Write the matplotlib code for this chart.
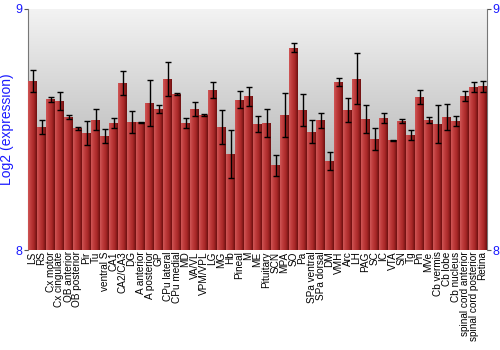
import numpy as np
import matplotlib
matplotlib.use("Agg")
import matplotlib.pyplot as plt
from matplotlib.colors import LinearSegmentedColormap

regions = ["LS", "RS", "Cx motor", "Cx cingulate", "OB anterior", "OB posterior",
           "Pir", "Tu", "ventral S", "CA1", "CA2/CA3", "DG", "A anterior",
           "A posterior", "GP", "CPu lateral", "CPu medial", "MD", "VA/VL",
           "VPM/VPL", "LG", "MG", "Hb", "Pineal", "M", "ME", "Pituitary", "SCN",
           "MPA", "SO", "Pa", "SPa ventral", "SPa dorsal", "DM", "VMH", "Arc",
           "LH", "PAG", "SC", "IC", "VTA", "SN", "Tg", "Pn", "MVe", "Cb vermis",
           "Cb lobe", "Cb nucleus", "spinal cord anterior", "spinal cord posterior",
           "Retina"]

expr = [8.701, 8.510, 8.625, 8.618, 8.551, 8.505, 8.485, 8.541, 8.474, 8.527,
        8.693, 8.531, 8.531, 8.611, 8.585, 8.710, 8.647, 8.528, 8.586, 8.560,
        8.664, 8.509, 8.400, 8.624, 8.638, 8.524, 8.527, 8.351, 8.560, 8.840,
        8.580, 8.491, 8.538, 8.369, 8.698, 8.581, 8.711, 8.545, 8.462, 8.549,
        8.456, 8.535, 8.477, 8.635, 8.539, 8.522, 8.551, 8.535, 8.640, 8.676,
        8.679]

err = [0.044, 0.030, 0.010, 0.037, 0.008, 0.006, 0.050, 0.045, 0.029, 0.019,
       0.051, 0.046, 0.002, 0.095, 0.018, 0.069, 0.003, 0.021, 0.030, 0.005,
       0.035, 0.070, 0.100, 0.035, 0.040, 0.033, 0.059, 0.042, 0.093, 0.018,
       0.066, 0.048, 0.031, 0.039, 0.016, 0.048, 0.106, 0.058, 0.045, 0.020,
       0.002, 0.007, 0.020, 0.030, 0.014, 0.080, 0.053, 0.022, 0.021, 0.020,
       0.023]

blue = "#1a1aff"
plt.rcParams["font.family"] = ["Liberation Sans", "DejaVu Sans"]

fig = plt.figure(figsize=(5, 3.5), dpi=100)
ax = fig.add_axes([0.056, 0.2857, 0.918, 0.6886])

x = np.arange(len(regions))

# background gradient, light at top
bg = LinearSegmentedColormap.from_list("bg", ["#f3f3f3", "#9a9a9a"])
ax.imshow(np.linspace(0, 1, 256).reshape(-1, 1), cmap=bg, aspect="auto",
          extent=(-0.5, len(regions) - 0.5, 8, 9), zorder=0)

bars = ax.bar(x, [v - 8 for v in expr], bottom=8, width=0.9, color="#b83232",
              edgecolor="none", zorder=2)
red = LinearSegmentedColormap.from_list("red", ["#cf5656", "#bd3a3a", "#a82828", "#6e1010"])
grad = np.linspace(0, 1, 64).reshape(1, -1)
for b in bars:
    bx, by = b.get_x(), b.get_y()
    im = ax.imshow(grad, cmap=red, aspect="auto", zorder=3,
                   extent=(bx, bx + b.get_width(), by, by + b.get_height()))
    im.set_clip_path(b)

ax.errorbar(x, expr, yerr=err, fmt="none", ecolor="black", elinewidth=1,
            capsize=2, capthick=1, zorder=4)

ax.set_xlim(-0.5, len(regions) - 0.5)
ax.set_ylim(8, 9)
ax.set_xticks(x)
ax.set_xticklabels(regions, rotation=90, fontsize=7.2)
ax.tick_params(axis="x", length=0, pad=1)
ax.set_yticks([8, 9])
ax.set_yticklabels(["8", "9"])
ax.tick_params(axis="y", labelcolor=blue, labelsize=9, length=3, color="#555555",
               left=True, right=True, labelleft=True, labelright=True, pad=1)
for s in ["top", "bottom"]:
    ax.spines[s].set_visible(False)
for s in ["left", "right"]:
    ax.spines[s].set_color("#777777")
ax.set_ylabel("Log2 (expression)", color=blue, fontsize=10, labelpad=1)

fig.savefig("out.png", dpi=100)
